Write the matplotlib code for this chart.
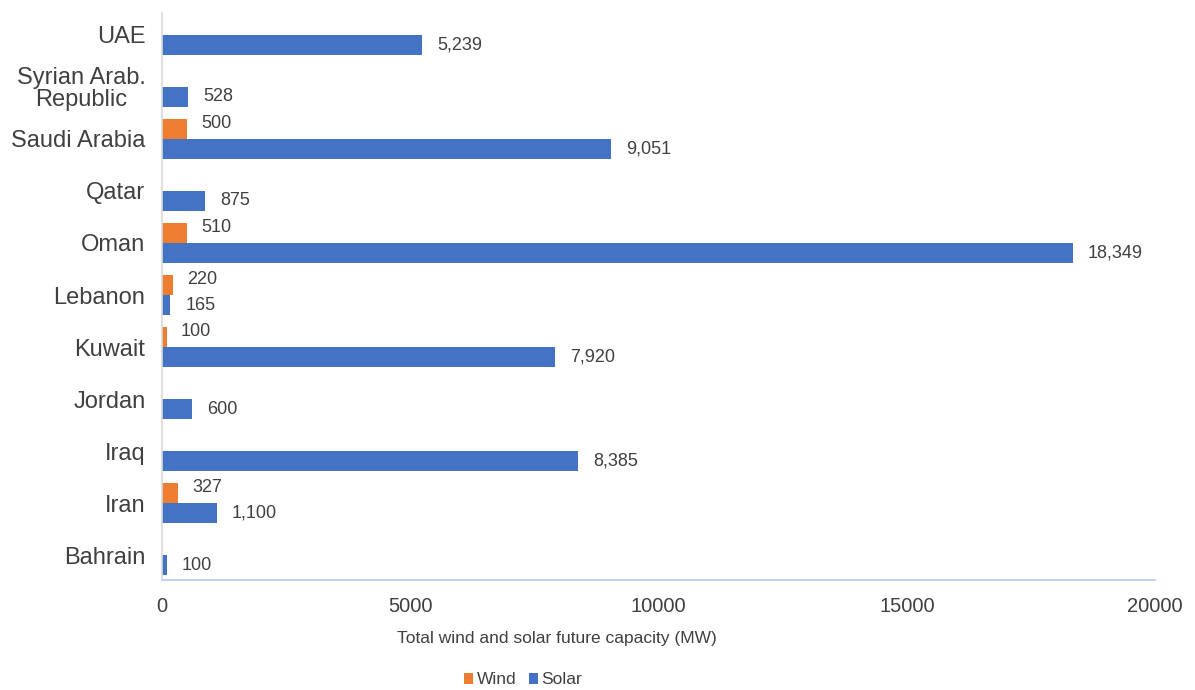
import matplotlib
matplotlib.use("Agg")
import matplotlib.pyplot as plt
import numpy as np

countries = ["Bahrain", "Iran", "Iraq", "Jordan", "Kuwait", "Lebanon", "Oman",
             "Qatar", "Saudi Arabia", "Syrian Arab.\nRepublic", "UAE"]
wind = [None, 327, None, None, 100, 220, 510, None, 500, None, None]
solar = [100, 1100, 8385, 600, 7920, 165, 18349, 875, 9051, 528, 5239]

WIND_C = "#ED7D31"
SOLAR_C = "#4472C4"
TXT = "#404040"
sans = ["Liberation Sans", "DejaVu Sans"]

fig = plt.figure(figsize=(11.95, 6.90), dpi=100)
ax = fig.add_axes([0.1356, 0.1594, 0.831, 0.8216])

y = np.arange(len(countries))
h = 0.385
wv = [v if v is not None else 0 for v in wind]
ax.barh(y + h / 2, wv, height=h, color=WIND_C, label="Wind")
ax.barh(y - h / 2, solar, height=h, color=SOLAR_C, label="Solar")

px = 20000 / 993  # data units per pixel
for yi, v in zip(y, wind):
    if v is not None:
        ax.text(v + 14 * px, yi + h / 2 + 0.1, f"{v:,}", va="center", ha="left",
                fontsize=13, color=TXT, family=sans)
for yi, v in zip(y, solar):
    ax.text(v + 15 * px, yi - h / 2, f"{v:,}", va="center", ha="left",
            fontsize=13, color=TXT, family=sans)

ax.set_xlim(0, 20000)
ax.set_ylim(-0.48, 10.42)
ax.set_yticks(y)
ax.set_yticklabels(countries, fontsize=17, color=TXT, family=sans, linespacing=0.95,
                   multialignment="center")
ax.set_xticks([0, 5000, 10000, 15000, 20000])
ax.set_xticklabels(["0", "5000", "10000", "15000", "20000"], fontsize=14.5,
                   color=TXT, family=sans)
ax.tick_params(axis="y", length=0, pad=12)
ax.tick_params(axis="x", length=0, pad=12)
for s in ["top", "right"]:
    ax.spines[s].set_visible(False)
ax.spines["left"].set_color("#d9d9d9")
ax.spines["bottom"].set_color("#c5d3ee")
ax.spines["left"].set_linewidth(1.2)
ax.spines["bottom"].set_linewidth(1.5)

fig.text(557 / 1195, 1 - 638 / 690, "Total wind and solar future capacity (MW)",
         fontsize=12.5, color=TXT, family=sans, ha="center", va="center")
fig.legend(loc="center", bbox_to_anchor=(523 / 1195, 1 - 680 / 690), ncol=2,
           frameon=False, handlelength=0.55, handleheight=0.55, handletextpad=0.2,
           columnspacing=0.7, prop={"family": sans, "size": 12.5}, labelcolor=TXT,
           borderaxespad=0, borderpad=0)

fig.savefig("out.png", dpi=100)
